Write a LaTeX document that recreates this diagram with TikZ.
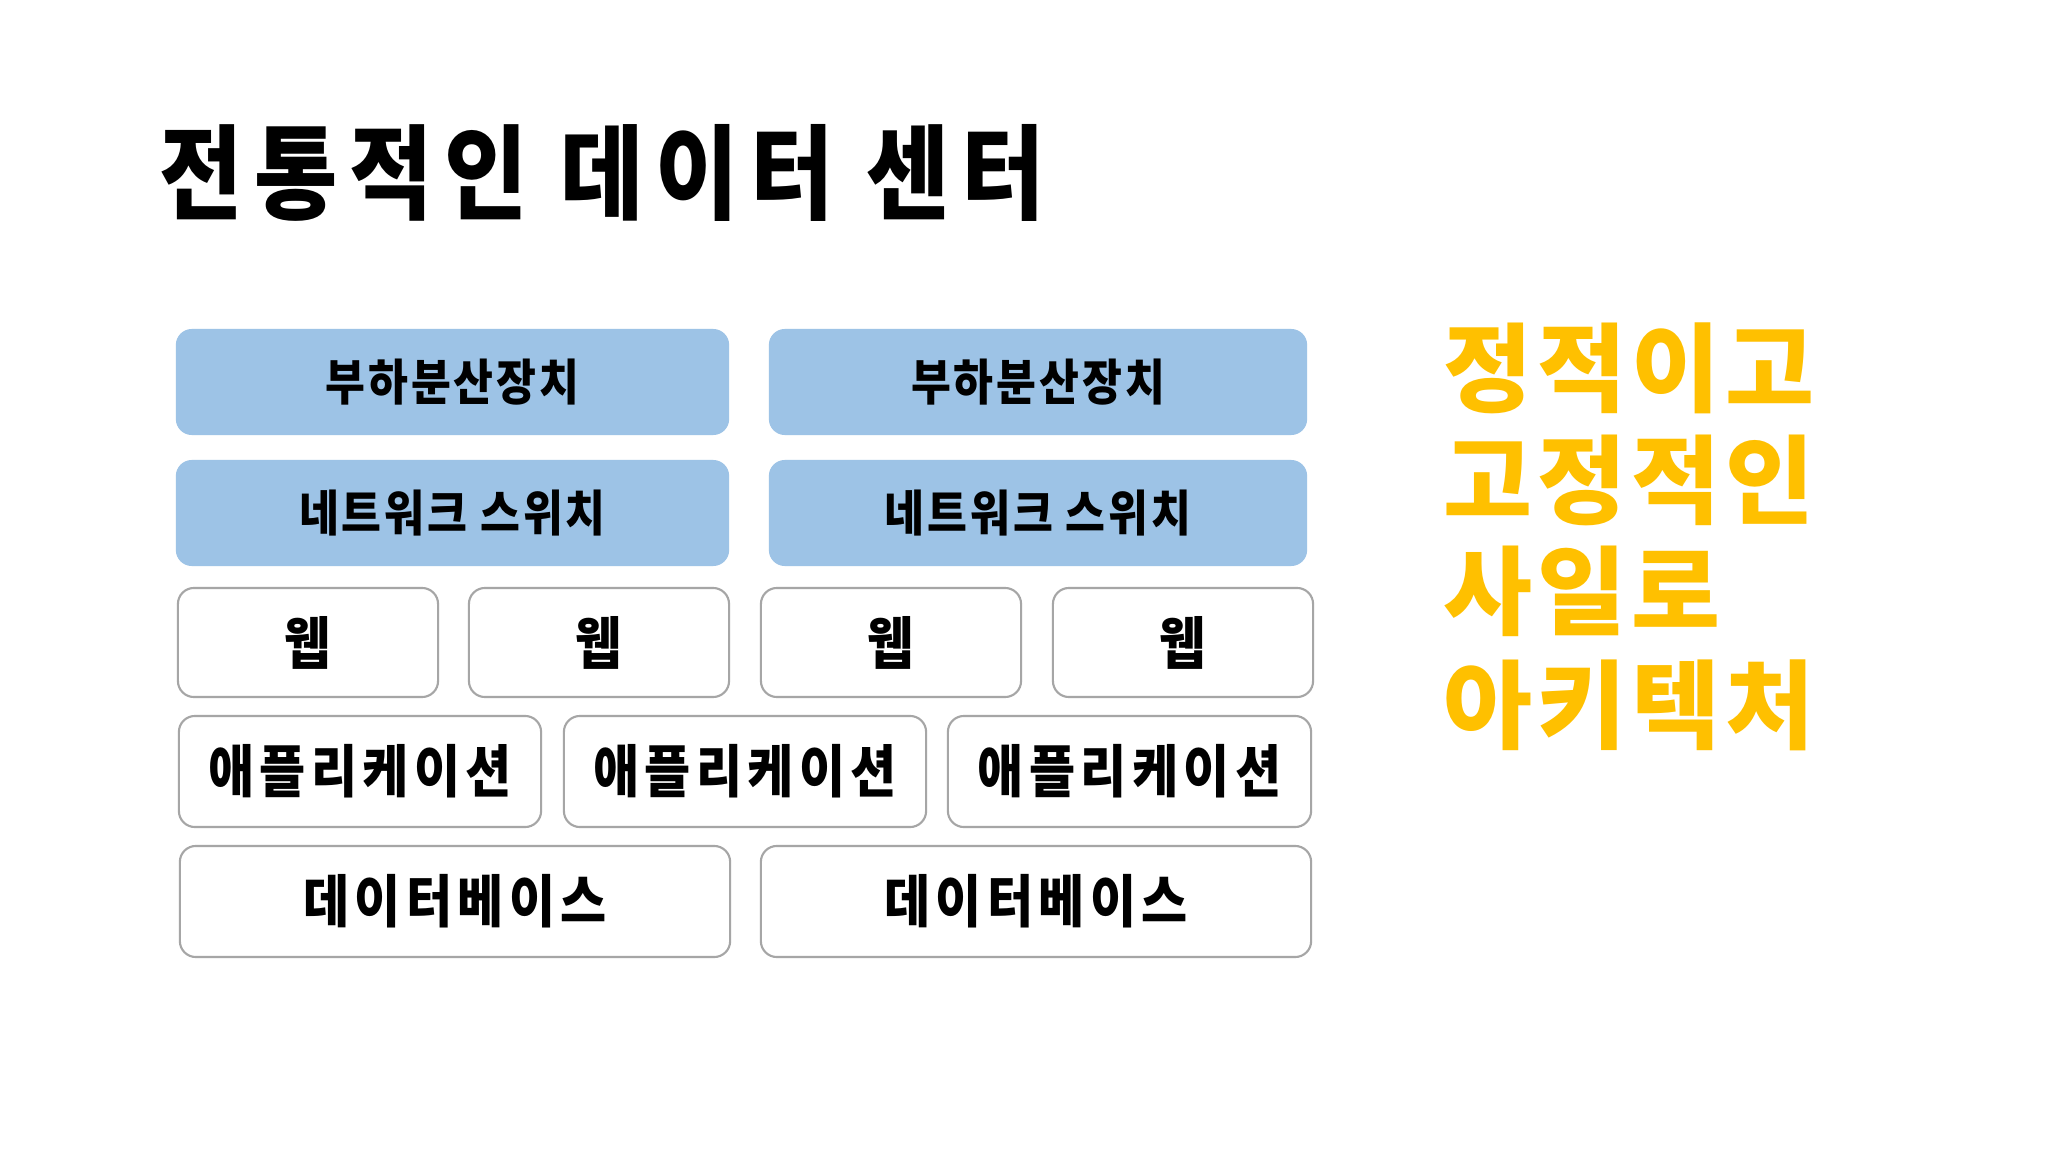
\documentclass[tikz,border=0pt]{standalone}
\usepackage{fontspec}
\newfontfamily\kr{Noto Sans CJK KR}
\newfontfamily\krc[FakeStretch=0.88]{Noto Sans CJK KR}
\definecolor{lbblue}{HTML}{9DC3E6}
\definecolor{gold}{HTML}{FFC000}
\definecolor{bordergray}{HTML}{A6A6A6}
\tikzset{
  bluebox/.style={rounded corners=0.16cm, fill=lbblue, draw=none, inner sep=0pt,
    font=\krc\bfseries\addfontfeatures{LetterSpace=6}\fontsize{14}{16}\selectfont, text=black},
  whitebox/.style={rounded corners=0.16cm, fill=white, draw=bordergray, line width=0.6pt, inner sep=0pt,
    font=\krc\bfseries\addfontfeatures{LetterSpace=9.5}\fontsize{16.2}{18}\selectfont, text=black},
  titletext/.style={anchor=west, inner sep=0pt,
    font=\krc\bfseries\addfontfeatures{LetterSpace=11.3}\fontsize{29.3}{32}\selectfont},
  sidetext/.style={anchor=west, inner sep=0pt, text=gold,
    font=\kr\bfseries\addfontfeatures{LetterSpace=5}\fontsize{27.5}{30}\selectfont}
}
\begin{document}
\begin{tikzpicture}[x=0.01cm, y=-0.01cm]
\fill[white] (0,0) rectangle (2048,1152);
\useasboundingbox (0,0) rectangle (2048,1152);

\node[titletext] (title) at (159,173) {전통적인 데이터 센터};

% row 1: load balancers
\node[bluebox, minimum width=5.53cm, minimum height=1.06cm] (lb1) at (452.5,382) {부하분산장치};
\node[bluebox, minimum width=5.38cm, minimum height=1.06cm] (lb2) at (1038,382) {부하분산장치};
% row 2: network switches
\node[bluebox, minimum width=5.53cm, minimum height=1.06cm] (sw1) at (452.5,513) {네트워크 스위치};
\node[bluebox, minimum width=5.38cm, minimum height=1.06cm] (sw2) at (1038,513) {네트워크 스위치};
% row 3: web
\node[whitebox, minimum width=2.60cm, minimum height=1.09cm] (w1) at (308,642.5) {웹};
\node[whitebox, minimum width=2.60cm, minimum height=1.09cm] (w2) at (599,642.5) {웹};
\node[whitebox, minimum width=2.60cm, minimum height=1.09cm] (w3) at (891,642.5) {웹};
\node[whitebox, minimum width=2.60cm, minimum height=1.09cm] (w4) at (1183,642.5) {웹};
% row 4: applications
\node[whitebox, minimum width=3.62cm, minimum height=1.11cm] (a1) at (360,771.5) {애플리케이션};
\node[whitebox, minimum width=3.62cm, minimum height=1.11cm] (a2) at (745,771.5) {애플리케이션};
\node[whitebox, minimum width=3.63cm, minimum height=1.11cm] (a3) at (1129.5,771.5) {애플리케이션};
% row 5: databases
\node[whitebox, minimum width=5.50cm, minimum height=1.11cm] (d1) at (455,901.5) {데이터베이스};
\node[whitebox, minimum width=5.50cm, minimum height=1.11cm] (d2) at (1036,901.5) {데이터베이스};

% side text
\node[sidetext] (s1) at (1443,368) {정적이고};
\node[sidetext] (s2) at (1443,480) {고정적인};
\node[sidetext] (s3) at (1443,591) {사일로};
\node[sidetext] (s4) at (1443,705) {아키텍처};
\end{tikzpicture}
\end{document}
